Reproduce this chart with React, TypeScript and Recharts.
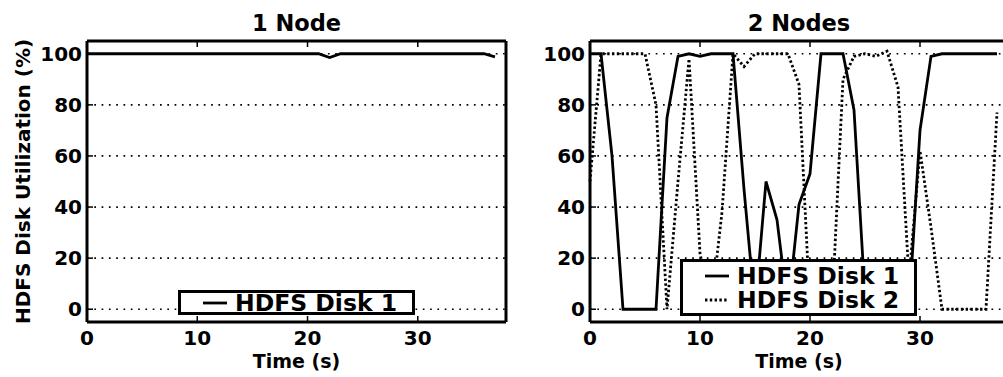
import { CartesianGrid, Legend, Line, LineChart, XAxis, YAxis } from "recharts";

// time in seconds, one sample per second
const times = [
  0, 1, 2, 3, 4, 5, 6, 7, 8, 9, 10, 11, 12, 13, 14, 15, 16, 17, 18, 19, 20, 21, 22, 23, 24, 25, 26,
  27, 28, 29, 30, 31, 32, 33, 34, 35, 36, 37,
];

// 1 node: HDFS disk utilization (%)
const oneNodeDisk1 = [
  100, 100, 100, 100, 100, 100, 100, 100, 100, 100, 100, 100, 100, 100, 100, 100, 100, 100, 100,
  100, 100, 100, 98.5, 100, 100, 100, 100, 100, 100, 100, 100, 100, 100, 100, 100, 100, 100, 98.8,
];

// 2 nodes: HDFS disk utilization (%)
const twoNodeDisk1 = [
  100, 100, 60, 0, 0, 0, 0, 75, 99, 100, 99, 100, 100, 100, 47, 0, 50, 35, 0, 41, 53, 100, 100, 100,
  78, 5, 0, 0, 0, 0, 70, 99, 100, 100, 100, 100, 100, 100,
];
const twoNodeDisk2 = [
  50, 100, 100, 100, 100, 100, 80, 0, 50, 98, 22, 0, 38, 100, 95, 100, 100, 100, 100, 88, 0, 0, 0,
  90, 99, 100, 99, 101, 87, 12, 62, 32, 0, 0, 0, 0, 0, 77,
];

const xTicks = [0, 10, 20, 30];
const yTicks = [0, 20, 40, 60, 80, 100];
const seriesNames = ["HDFS Disk 1", "HDFS Disk 2"];
const panelTitles = ["1 Node", "2 Nodes"];

const FONT = "DejaVu Sans";
const INK = "#000";
const DOTS = "2.4 2.4";
const TICK_LEN = 6;
const X_GAP = 9;
const Y_GAP = 5;

const oneNodeData = times.map((t, i) => ({ t, disk1: oneNodeDisk1[i] }));
const twoNodeData = times.map((t, i) => ({ t, disk1: twoNodeDisk1[i], disk2: twoNodeDisk2[i] }));

type Series = { key: string; name: string; dash?: string };

const textStyle = { fill: INK, fontWeight: "bold", fontFamily: FONT } as const;

// matplotlib-style ticks: mark points into the plot, label sits outside
const BottomTick = ({ x, y, payload }: any) => (
  <g>
    <line x1={x} x2={x} y1={y - X_GAP} y2={y - X_GAP - TICK_LEN} stroke={INK} strokeWidth={1.5} />
    <text x={x} y={y} dy="0.71em" textAnchor="middle" fontSize={20} {...textStyle}>
      {payload.value}
    </text>
  </g>
);
const LeftTick = ({ x, y, payload }: any) => (
  <g>
    <line x1={x + Y_GAP} x2={x + Y_GAP + TICK_LEN} y1={y} y2={y} stroke={INK} strokeWidth={1.5} />
    <text x={x} y={y} dy="0.355em" textAnchor="end" fontSize={20} {...textStyle}>
      {payload.value}
    </text>
  </g>
);
const TopTick = ({ x, y }: any) => (
  <line x1={x} x2={x} y1={y} y2={y + TICK_LEN} stroke={INK} strokeWidth={1.5} />
);
const RightTick = ({ x, y }: any) => (
  <line x1={x} x2={x - TICK_LEN} y1={y} y2={y} stroke={INK} strokeWidth={1.5} />
);

function LegendBox({ series, height }: { series: Series[]; height: number }) {
  return (
    <div
      style={{
        width: 237,
        height,
        boxSizing: "border-box",
        border: `3px solid ${INK}`,
        background: "#fff",
        display: "flex",
        flexDirection: "column",
        justifyContent: "center",
      }}
    >
      {series.map((s) => (
        <div key={s.key} style={{ display: "flex", alignItems: "center", height: 24 }}>
          <svg width={24} height={6} style={{ marginLeft: 22, marginRight: 8, flex: "none" }}>
            <line x1={0} y1={3} x2={24} y2={3} stroke={INK} strokeWidth={2.8} strokeDasharray={s.dash} />
          </svg>
          <span
            style={{
              display: "block",
              height: 24,
              fontFamily: FONT,
              fontWeight: "bold",
              fontSize: 23.5,
              lineHeight: "24px",
              color: INK,
              whiteSpace: "nowrap",
            }}
          >
            {s.name}
          </span>
        </div>
      ))}
    </div>
  );
}

function Panel({
  title,
  data,
  series,
  left,
  marginRight,
  yLabel,
  legendLeft,
  legendTop,
  legendHeight,
}: {
  title: string;
  data: any[];
  series: Series[];
  left: number;
  marginRight: number;
  yLabel?: string;
  legendLeft: number;
  legendTop: number;
  legendHeight: number;
}) {
  return (
    <div style={{ position: "absolute", left, top: 0 }}>
      <LineChart width={520} height={377} data={data} margin={{ top: 40, right: marginRight, bottom: 0, left: 0 }}>
        <CartesianGrid vertical={false} stroke={INK} strokeWidth={1.7} strokeDasharray="1.7 5.6" />
        {series.map((s) => (
          <Line
            key={s.key}
            dataKey={s.key}
            name={s.name}
            type="linear"
            stroke={INK}
            strokeWidth={2.8}
            strokeDasharray={s.dash}
            dot={false}
            activeDot={false}
            isAnimationActive={false}
          />
        ))}
        <XAxis
          dataKey="t"
          type="number"
          domain={[0, 38]}
          ticks={xTicks}
          interval={0}
          height={55}
          tickSize={0}
          tickMargin={X_GAP}
          tickLine={false}
          stroke={INK}
          strokeWidth={3}
          tick={<BottomTick />}
          label={{
            value: "Time (s)",
            position: "insideBottom",
            offset: 9,
            style: { ...textStyle, fontSize: 19 },
          }}
        />
        <XAxis
          xAxisId="top"
          orientation="top"
          dataKey="t"
          type="number"
          domain={[0, 38]}
          ticks={xTicks}
          interval={0}
          height={1}
          tickSize={0}
          tickMargin={0}
          tickLine={false}
          stroke={INK}
          strokeWidth={3}
          tick={<TopTick />}
          label={{
            value: title,
            position: "top",
            offset: 9,
            style: { ...textStyle, fontSize: 22.5 },
          }}
        />
        <YAxis
          type="number"
          domain={[-5, 105]}
          ticks={yTicks}
          interval={0}
          width={87}
          tickSize={0}
          tickMargin={Y_GAP}
          tickLine={false}
          stroke={INK}
          strokeWidth={3}
          tick={<LeftTick />}
          label={
            yLabel
              ? {
                  value: yLabel,
                  angle: -90,
                  position: "insideLeft",
                  offset: 23,
                  style: { ...textStyle, textAnchor: "middle", fontSize: 20 },
                }
              : undefined
          }
        />
        <YAxis
          yAxisId="right"
          orientation="right"
          type="number"
          domain={[-5, 105]}
          ticks={yTicks}
          interval={0}
          width={1}
          tickSize={0}
          tickMargin={0}
          tickLine={false}
          stroke={INK}
          strokeWidth={3}
          tick={<RightTick />}
        />
        <Legend
          layout="horizontal"
          verticalAlign="middle"
          align="center"
          wrapperStyle={{ left: legendLeft, top: legendTop, width: 237 }}
          content={() => <LegendBox series={series} height={legendHeight} />}
        />
      </LineChart>
    </div>
  );
}

export default function App() {
  return (
    <div
      style={{
        position: "fixed",
        left: 0,
        top: 0,
        width: 1003,
        height: 377,
        overflow: "hidden",
        background: "#fff",
      }}
    >
      <Panel
        title={panelTitles[0]}
        data={oneNodeData}
        series={[{ key: "disk1", name: seriesNames[0] }]}
        left={0}
        marginRight={13}
        yLabel="HDFS Disk Utilization (%)"
        legendLeft={178}
        legendTop={290}
        legendHeight={25}
      />
      <Panel
        title={panelTitles[1]}
        data={twoNodeData}
        series={[
          { key: "disk1", name: seriesNames[0] },
          { key: "disk2", name: seriesNames[1], dash: DOTS },
        ]}
        left={503}
        marginRight={14}
        legendLeft={177}
        legendTop={259}
        legendHeight={57}
      />
    </div>
  );
}
